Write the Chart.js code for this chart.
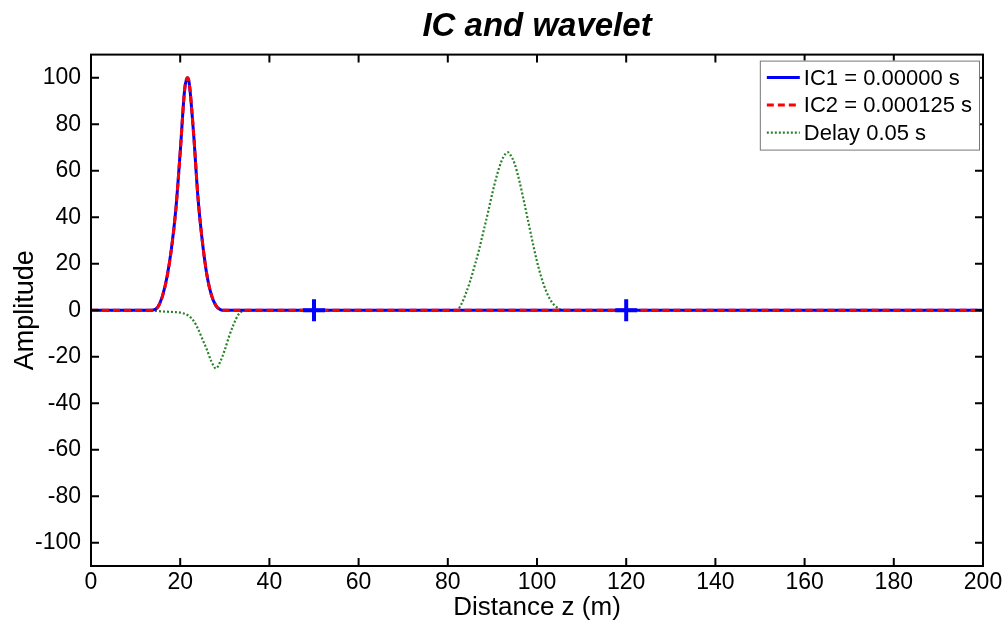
<!DOCTYPE html>
<html>
<head>
<meta charset="utf-8">
<script src="https://cdn.jsdelivr.net/npm/chart.js@4/dist/chart.umd.min.js"></script>
<style>
  html, body { margin: 0; padding: 0; background: #fff; }
  canvas { display: block; background: #fff; }
</style>
</head>
<body>
<canvas id="chart" width="1008" height="629"></canvas>
<script>
// Initial conditions (two time levels) and the delayed wavelet, amplitude vs distance z
const icZ = [0, 13, 14, 15, 16, 17, 18, 19, 20, 21, 21.6, 22, 23, 24, 25, 26, 27, 28, 29, 30, 200];
const ic1 = [0, 0, 0.1, 1.5, 6, 14, 26, 43, 68, 95, 100, 98, 76, 48, 29, 15, 6.5, 2, 0.3, 0, 0];
const ic2 = [0, 0, 0.1, 1.4, 5.9, 13.8, 25.8, 42.8, 67.8, 95, 100, 98.2, 76.3, 48.3, 29.2, 15.2, 6.6, 2.1, 0.3, 0, 0];

const delayZ = [0, 14, 16, 18, 20, 21, 22, 23, 24, 25, 26, 27, 28, 29, 30, 31, 32, 33, 34, 35,
  82, 83, 84, 85, 86, 87, 88, 89, 90, 91, 92, 93, 93.5, 94, 95, 96, 97, 98, 99, 100,
  101, 102, 103, 104, 105, 106, 200];
const delay = [0, -0.2, -0.5, -0.7, -1, -1.5, -2.5, -4.5, -8, -12.5, -17, -22, -25, -22, -17, -11, -6, -2, -0.3, 0,
  0, 2.5, 7, 12.5, 19, 26, 34, 42, 50.5, 58, 64, 67.5, 68, 67, 63, 56, 47.5, 38.5, 29.5, 21,
  14, 8.5, 4.5, 2, 0.6, 0, 0];

// receiver positions marked with a cross
const markerZ = [50, 120];
const markerAmp = [0, 0];

const seriesNames = ['IC1 = 0.00000 s', 'IC2 = 0.000125 s', 'Delay 0.05 s'];
const xTicks = [0, 20, 40, 60, 80, 100, 120, 140, 160, 180, 200];
const yTicks = [-100, -80, -60, -40, -20, 0, 20, 40, 60, 80, 100];

const FONT = "'Liberation Sans', Arial, Helvetica, sans-serif";
const zip = (xs, ys) => xs.map((x, i) => ({ x: x, y: ys[i] }));

// frame with inward ticks on all four sides, like a boxed axes
const boxFrame = {
  id: 'boxFrame',
  afterDatasetsDraw(chart) {
    const { ctx, chartArea: a, scales } = chart;
    const len = 8;
    ctx.save();
    ctx.strokeStyle = '#000';
    ctx.lineWidth = 2;
    ctx.beginPath();
    xTicks.forEach(v => {
      const px = scales.x.getPixelForValue(v);
      ctx.moveTo(px, a.bottom); ctx.lineTo(px, a.bottom - len);
      ctx.moveTo(px, a.top); ctx.lineTo(px, a.top + len);
    });
    yTicks.forEach(v => {
      const py = scales.y.getPixelForValue(v);
      ctx.moveTo(a.left, py); ctx.lineTo(a.left + len, py);
      ctx.moveTo(a.right, py); ctx.lineTo(a.right - len, py);
    });
    ctx.stroke();
    ctx.strokeRect(a.left, a.top, a.right - a.left, a.bottom - a.top);
    ctx.restore();
  }
};

// legend box drawn inside the top-right corner of the plot
const insideLegend = {
  id: 'insideLegend',
  afterDraw(chart) {
    const { ctx, chartArea: a } = chart;
    const items = chart.data.datasets.filter(d => d.inLegend);
    ctx.save();
    ctx.font = '22px ' + FONT;
    const textW = Math.max(...items.map(d => ctx.measureText(d.label).width));
    const w = 44 + textW + 7;
    const rowH = 27.5;
    const h = 17 + rowH * (items.length - 1) + 17;
    const x0 = a.right - 4 - w;
    const y0 = a.top + 6;
    ctx.fillStyle = '#fff';
    ctx.fillRect(x0, y0, w, h);
    ctx.strokeStyle = '#777';
    ctx.lineWidth = 1;
    ctx.strokeRect(x0 + 0.5, y0 + 0.5, w, h);
    items.forEach((d, i) => {
      const cy = y0 + 17 + i * rowH;
      ctx.beginPath();
      ctx.setLineDash(d.borderDash || []);
      ctx.strokeStyle = d.borderColor;
      ctx.lineWidth = d.borderWidth;
      ctx.moveTo(x0 + 7, cy);
      ctx.lineTo(x0 + 40, cy);
      ctx.stroke();
      ctx.setLineDash([]);
      ctx.fillStyle = '#000';
      ctx.textBaseline = 'middle';
      ctx.fillText(d.label, x0 + 44, cy + 1);
    });
    ctx.restore();
  }
};

new Chart(document.getElementById('chart'), {
  type: 'line',
  data: {
    datasets: [
      {
        label: seriesNames[0],
        data: zip(icZ, ic1),
        borderColor: 'rgb(0,0,255)',
        borderWidth: 3,
        inLegend: true,
        order: 2
      },
      {
        label: seriesNames[1],
        data: zip(icZ, ic2),
        borderColor: 'rgb(255,0,0)',
        borderWidth: 3,
        borderDash: [7, 4],
        inLegend: true,
        order: 1
      },
      {
        label: seriesNames[2],
        data: zip(delayZ, delay),
        borderColor: 'rgb(40,130,40)',
        borderWidth: 2.2,
        borderDash: [2, 2],
        inLegend: true,
        order: 3
      },
      {
        label: 'receivers',
        data: zip(markerZ, markerAmp),
        showLine: false,
        pointStyle: 'cross',
        pointRadius: 11,
        pointBorderWidth: 4,
        pointBorderColor: 'rgb(0,0,255)',
        borderColor: 'rgb(0,0,255)',
        order: 0
      }
    ]
  },
  options: {
    responsive: false,
    animation: false,
    layout: { padding: { left: 0, right: 25, top: 0, bottom: 0 } },
    elements: {
      point: { radius: 0, hoverRadius: 0 },
      line: { cubicInterpolationMode: 'monotone', fill: false }
    },
    plugins: {
      legend: { display: false },
      tooltip: { enabled: false },
      title: {
        display: true,
        fullSize: false,
        text: 'IC and wavelet',
        color: '#000',
        font: { family: FONT, size: 33, style: 'italic', weight: 'bold' },
        padding: { top: 7, bottom: 8 }
      }
    },
    scales: {
      x: {
        type: 'linear',
        min: 0,
        max: 200,
        grid: { display: false, drawTicks: false },
        border: { display: false },
        afterBuildTicks: s => { s.ticks = xTicks.map(v => ({ value: v })); },
        afterFit: s => { s.height = 63; },
        ticks: {
          color: '#000',
          font: { family: FONT, size: 23 },
          padding: 3,
          maxRotation: 0,
          autoSkip: false
        },
        title: {
          display: true,
          text: 'Distance z (m)',
          color: '#000',
          font: { family: FONT, size: 26 },
          padding: { top: 0, bottom: 6 }
        }
      },
      y: {
        type: 'linear',
        min: -110,
        max: 110,
        grid: { display: false, drawTicks: false },
        border: { display: false },
        afterBuildTicks: s => { s.ticks = yTicks.map(v => ({ value: v })); },
        afterFit: s => { s.width = 91; },
        ticks: {
          color: '#000',
          font: { family: FONT, size: 23 },
          padding: 10,
          autoSkip: false
        },
        title: {
          display: true,
          text: 'Amplitude',
          color: '#000',
          font: { family: FONT, size: 27 },
          padding: { top: 9, bottom: 0 }
        }
      }
    }
  },
  plugins: [boxFrame, insideLegend]
});
</script>
</body>
</html>
